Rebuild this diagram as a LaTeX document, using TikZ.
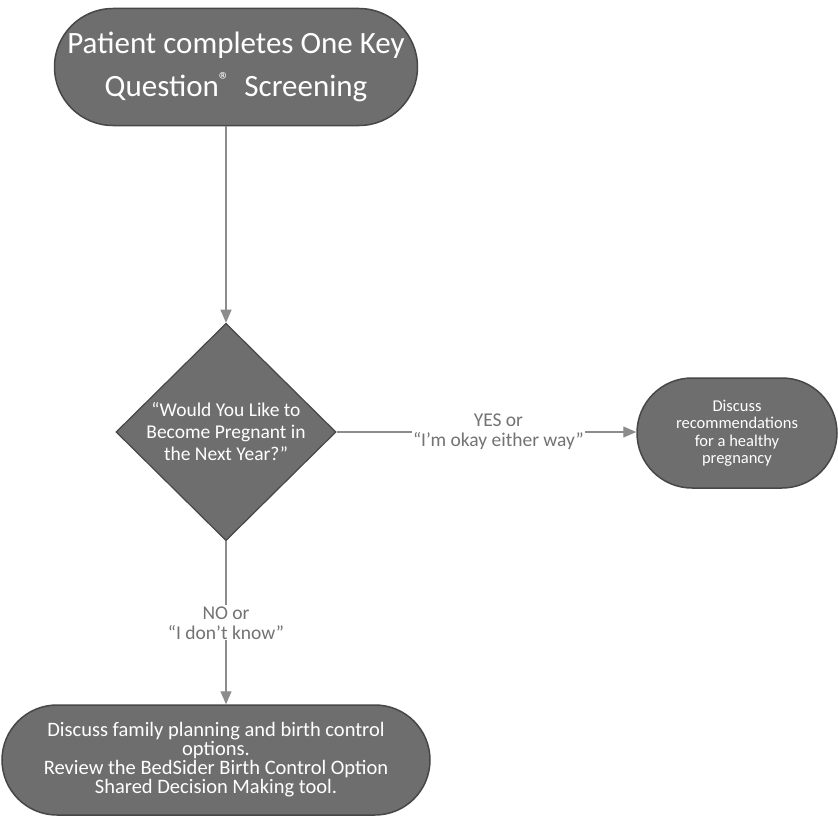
\documentclass[tikz,border=0pt]{standalone}
\usepackage{fontspec}
\setmainfont{Carlito}
\usetikzlibrary{shapes.geometric, shapes.misc, arrows.meta}

\begin{document}
\begin{tikzpicture}[x=1pt, y=-1pt,
    term/.style={rounded rectangle, draw=black!72, line width=1.5pt, fill=black!57, text=white, align=center, inner sep=0pt},
    flow/.style={draw=black!45, line width=1.2pt, -{Triangle[width=11pt, length=13pt]}},
    answer/.style={fill=white, text=black!55, align=center, inner sep=1pt, font=\fontsize{19.5}{20}\selectfont}]
    \useasboundingbox (0,0) rectangle (838,816);
    % start and the question
    \node[term, minimum width=363pt, minimum height=117pt, font=\fontsize{31}{43}\selectfont] (start) at (236,67)
        {Patient completes One Key\\Question\textsuperscript{®}\ \ Screening};
    \node[diamond, draw=black!72, line width=1.2pt, fill=black!57, text=white, align=center, inner sep=0pt,
        minimum width=220pt, minimum height=216pt, font=\fontsize{19.5}{22}\selectfont] (question) at (226,432)
        {“Would You Like to\\Become Pregnant in\\the Next Year?”};
    % the two outcomes
    \node[term, minimum width=200pt, minimum height=110pt, font=\fontsize{16.5}{17.5}\selectfont] (yes) at (737,433)
        {Discuss\\recommendations\\for a healthy\\pregnancy};
    \node[term, minimum width=428pt, minimum height=110pt, font=\fontsize{20.5}{19}\selectfont] (no) at (216,760)
        {Discuss family planning and birth control\\options.\\Review the BedSider Birth Control Option\\Shared Decision Making tool.};
    % connectors
    \draw[flow] (question.north |- start.south) -- (question.north);
    \draw[flow] (question.east) -- node[answer, pos=0.54] (yeslbl) {YES or\\“I'm okay either way”} (question.east -| yes.west);
    \draw[flow] (question.south) -- node[answer, pos=0.5] (nolbl) {NO or\\“I don't know”} (question.south |- no.north);
\end{tikzpicture}
\end{document}
